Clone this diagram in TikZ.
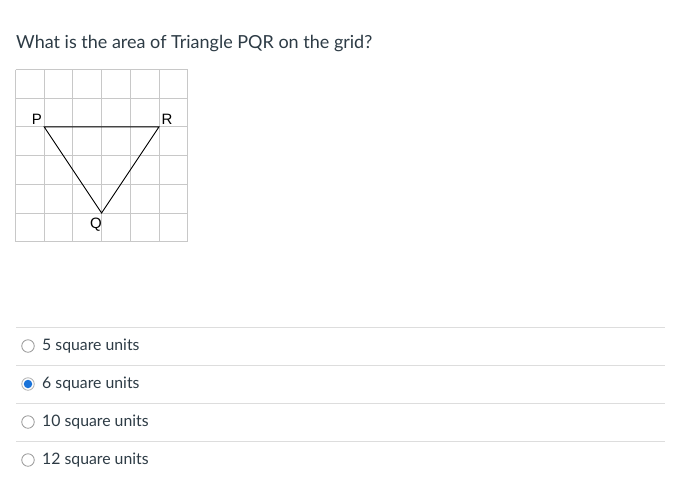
\documentclass[tikz,border=0pt]{standalone}
\usepackage{fontspec}
\setmainfont{Lato}
\newfontfamily\gridfont{Liberation Sans}
\definecolor{inkgray}{HTML}{2D3B45}
\definecolor{gridgray}{HTML}{C8C8C8}
\definecolor{rulegray}{HTML}{DDDDDD}
\definecolor{radioblue}{HTML}{1A73D9}
\newcommand{\cell}{28.7}
\newcommand{\gx}{15.5}
\newcommand{\gy}{69.5}

\begin{document}
\begin{tikzpicture}[x=1pt, y=-1pt]

        \useasboundingbox (0,0) rectangle (679,483);

        \node[anchor=base west, inner sep=0, text=inkgray, font=\fontsize{18}{21}\selectfont] (question) at (16,48) {What is the area of Triangle PQR on the grid?};

        % grid
        \foreach \i in {0,...,6} {
            \draw[gridgray, line width=0.9pt] ({\gx + \i*\cell}, \gy) -- ({\gx + \i*\cell}, {\gy + 6*\cell});
            \draw[gridgray, line width=0.9pt] (\gx, {\gy + \i*\cell}) -- ({\gx + 6*\cell}, {\gy + \i*\cell});
        }

        \coordinate (P) at ({\gx + 1*\cell}, {\gy + 2*\cell});
        \coordinate (R) at ({\gx + 5*\cell}, {\gy + 2*\cell});
        \coordinate (Q) at ({\gx + 3*\cell}, {\gy + 5*\cell});
        \draw[black, line width=0.9pt] (P) -- (R) -- (Q) -- cycle;

        \node[anchor=base, inner sep=0, font=\gridfont\fontsize{15}{17}\selectfont] (labelP) at (37, 124.5) {P};
        \node[anchor=base, inner sep=0, font=\gridfont\fontsize{15}{17}\selectfont] (labelR) at (167, 124.5) {R};
        \node[anchor=base, inner sep=0, font=\gridfont\fontsize{15}{17}\selectfont] (labelQ) at (96, 228) {Q};

        % answer choices
        \draw[rulegray, line width=0.9pt] (16, 327.3) -- (665, 327.3);
        \draw[rulegray, line width=0.9pt] (16, 365.3) -- (665, 365.3);
        \draw[rulegray, line width=0.9pt] (16, 403.3) -- (665, 403.3);
        \draw[rulegray, line width=0.9pt] (16, 441.3) -- (665, 441.3);

        \node[circle, draw=gray!80, fill=white, line width=0.8pt, minimum size=12.5pt, inner sep=0] (radioA) at (28, 346) {};
        \node[circle, draw=gray!60, fill=white, line width=0.8pt, minimum size=12.5pt, inner sep=0] (radioB) at (28, 384) {};
        \node[circle, fill=radioblue, minimum size=8.5pt, inner sep=0] (dotB) at (radioB) {};
        \node[circle, draw=gray!80, fill=white, line width=0.8pt, minimum size=12.5pt, inner sep=0] (radioC) at (28, 422) {};
        \node[circle, draw=gray!80, fill=white, line width=0.8pt, minimum size=12.5pt, inner sep=0] (radioD) at (28, 460) {};

        \node[anchor=base west, inner sep=0, text=inkgray, font=\fontsize{15.8}{19}\selectfont] (choiceA) at (42, 350.7) {5 square units};
        \node[anchor=base west, inner sep=0, text=inkgray, font=\fontsize{15.8}{19}\selectfont] (choiceB) at (42, 388.7) {6 square units};
        \node[anchor=base west, inner sep=0, text=inkgray, font=\fontsize{15.8}{19}\selectfont] (choiceC) at (42, 426.7) {10 square units};
        \node[anchor=base west, inner sep=0, text=inkgray, font=\fontsize{15.8}{19}\selectfont] (choiceD) at (42, 464.7) {12 square units};

    \end{tikzpicture}
\end{document}
